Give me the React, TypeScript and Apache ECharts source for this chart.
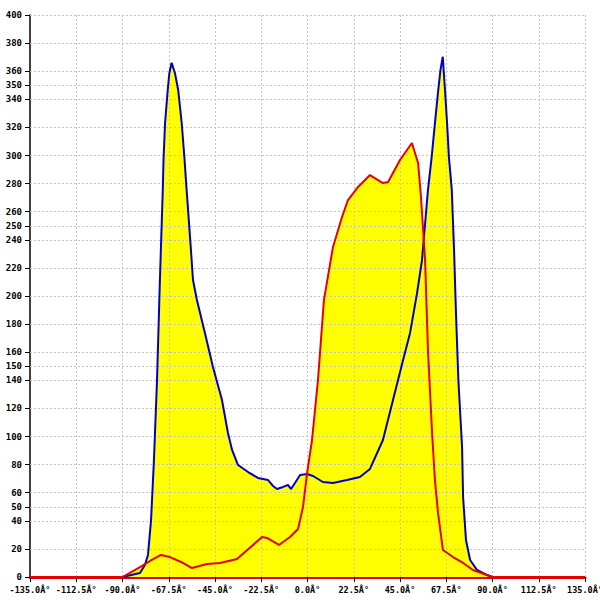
import React, { useEffect, useRef } from "react";
import * as echarts from "echarts";

// x ticks (degrees)
const xTickStep = 22.5;
const xMin = -135;
const xMax = 135;

// y tick labels shown on the axis
const yTicks = [0, 20, 40, 50, 60, 80, 100, 120, 140, 150, 160, 180, 200, 220, 240, 250, 260, 280, 300, 320, 340, 350, 360, 380, 400];

// blue curve: angle (deg) and value
const blueAngles = [-90, -81.5, -79.1, -77.6, -76.1, -74.7, -73.2, -71.8, -70.4, -70.05, -69.3, -68.0, -67.2, -66.1, -64.5, -62.9, -61.2, -59.9, -58.8, -56.7, -55.7, -53.8, -49.9, -46.0, -41.6, -38.7, -36.7, -33.8, -28.9, -24.1, -19.2, -16.8, -14.8, -11.9, -9.5, -8.0, -6.1, -3.6, -0.2, 2.7, 7.5, 12.4, 19.2, 25.5, 30.4, 36.7, 41.6, 46.5, 49.9, 53.3, 55.7, 58.6, 60.4, 62.0, 63.6, 64.7, 65.8, 66.9, 67.9, 68.8, 70.2, 71.3, 72.3, 73.4, 75.2, 75.7, 77.1, 79.1, 82.5, 87.3, 90];
const blueValues = [0, 2.8, 8.5, 15.7, 40.6, 83.3, 140.2, 211.4, 275.4, 296.8, 323.1, 346.6, 358.7, 366.0, 358.7, 346.6, 323.1, 298.9, 275.4, 232.7, 211.4, 197.2, 173.7, 149.5, 126.0, 102.5, 90.4, 79.7, 74.7, 70.5, 69.0, 64.8, 62.6, 64.1, 65.5, 62.6, 66.9, 72.6, 73.3, 71.9, 67.6, 66.9, 69.0, 71.2, 76.9, 97.5, 126.0, 154.4, 173.7, 202.1, 225.6, 275.4, 298.9, 323.1, 346.6, 360.9, 370.3, 346.6, 323.1, 298.9, 275.4, 232.7, 185.0, 140.2, 92.5, 56.9, 26.3, 12.1, 5.0, 1.4, 0];

// red curve: angle (deg) and value
const redAngles = [-135, -90, -81.5, -76.6, -71.3, -66.9, -61.5, -56.2, -48.9, -42.6, -34.3, -22.1, -19.7, -13.9, -8.5, -4.6, -2.2, -0.2, 2.2, 5.1, 8.0, 12.4, 16.8, 19.7, 24.6, 30.4, 36.7, 39.2, 45.0, 50.8, 53.8, 55.2, 57.2, 58.6, 60.6, 62.0, 63.5, 65.9, 70.8, 75.7, 80.5, 87.3, 90, 135];
const redValues = [0, 0, 7.1, 11.4, 15.7, 14.2, 10.7, 6.4, 9.3, 10.0, 12.8, 28.5, 27.8, 22.8, 28.5, 34.2, 49.8, 74.0, 97.5, 140.2, 197.2, 234.9, 256.2, 268.3, 277.6, 286.1, 280.4, 281.1, 296.8, 308.9, 294.7, 270.5, 225.6, 161.6, 102.5, 69.0, 45.6, 19.2, 14.2, 10.0, 5.0, 1.4, 0, 0];

const FONT = "DejaVu Sans Mono";

export default function App() {
  const ref = useRef<HTMLDivElement>(null);
  useEffect(() => {
    document.body.style.margin = "0";
    if (!ref.current) return;
    const chart = echarts.init(ref.current, undefined, { renderer: "svg" });
    const blue = blueAngles.map((a, i) => [a, blueValues[i]]);
    const red = redAngles.map((a, i) => [a, redValues[i]]);
    const xGrid: number[] = [];
    for (let v = xMin + xTickStep; v <= xMax + 1e-9; v += xTickStep) xGrid.push(v);
    const gridStyle = { color: "#c4c4c4", type: [2, 2] as any, width: 1 };
    chart.setOption({
      animation: false,
      backgroundColor: "#ffffff",
      grid: { left: 30, right: 15, top: 15, bottom: 23, containLabel: false, outerBoundsMode: "none" },
      xAxis: {
        type: "value",
        min: xMin,
        max: xMax,
        interval: xTickStep,
        axisLine: { show: true, onZero: false, lineStyle: { color: "#e00000", width: 3 } },
        axisTick: { show: true, length: 5, lineStyle: { color: "#000", width: 1 } },
        axisLabel: {
          margin: 8,
          color: "#000",
          fontFamily: FONT,
          fontSize: 8.5,
          fontWeight: "bold",
          showMinLabel: true,
          showMaxLabel: true,
          hideOverlap: false,
          formatter: (v: number) => v.toFixed(1) + "Â°",
        },
        splitLine: { show: false },
        minorSplitLine: { show: false },
      },
      yAxis: {
        type: "value",
        min: 0,
        max: 400,
        interval: 20,
        axisLine: { show: true, onZero: false, lineStyle: { color: "#000", width: 1.5 } },
        axisTick: { show: true, length: 5, customValues: yTicks, lineStyle: { color: "#000", width: 1 } },
        axisLabel: {
          customValues: yTicks,
          margin: 8,
          color: "#000",
          fontFamily: FONT,
          fontSize: 9,
          fontWeight: "bold",
          hideOverlap: false,
        },
        splitLine: { show: false },
        minorSplitLine: { show: false },
      },
      series: [
        {
          type: "line",
          data: blue,
          symbol: "none",
          z: 1,
          lineStyle: { width: 0 },
          areaStyle: { color: "#ffff00", opacity: 1 },
          silent: true,
        },
        {
          type: "line",
          data: red,
          symbol: "none",
          z: 1,
          lineStyle: { width: 0 },
          areaStyle: { color: "#ffff00", opacity: 1 },
          silent: true,
          markLine: {
            silent: true,
            z: 2,
            symbol: "none",
            label: { show: false },
            lineStyle: gridStyle,
            emphasis: { disabled: true },
            data: [
              ...yTicks.filter((v) => v > 0).map((v) => ({ yAxis: v })),
              ...xGrid.map((v) => ({ xAxis: v })),
            ],
          },
        },
        {
          type: "line",
          data: blue,
          symbol: "none",
          z: 3,
          lineStyle: { width: 2, color: "#0000c8" },
        },
        {
          type: "line",
          data: red,
          symbol: "none",
          z: 4,
          lineStyle: { width: 2, color: "#e60000" },
        },
      ],
    });
    return () => chart.dispose();
  }, []);
  return <div ref={ref} style={{ width: 600, height: 600 }} />;
}
